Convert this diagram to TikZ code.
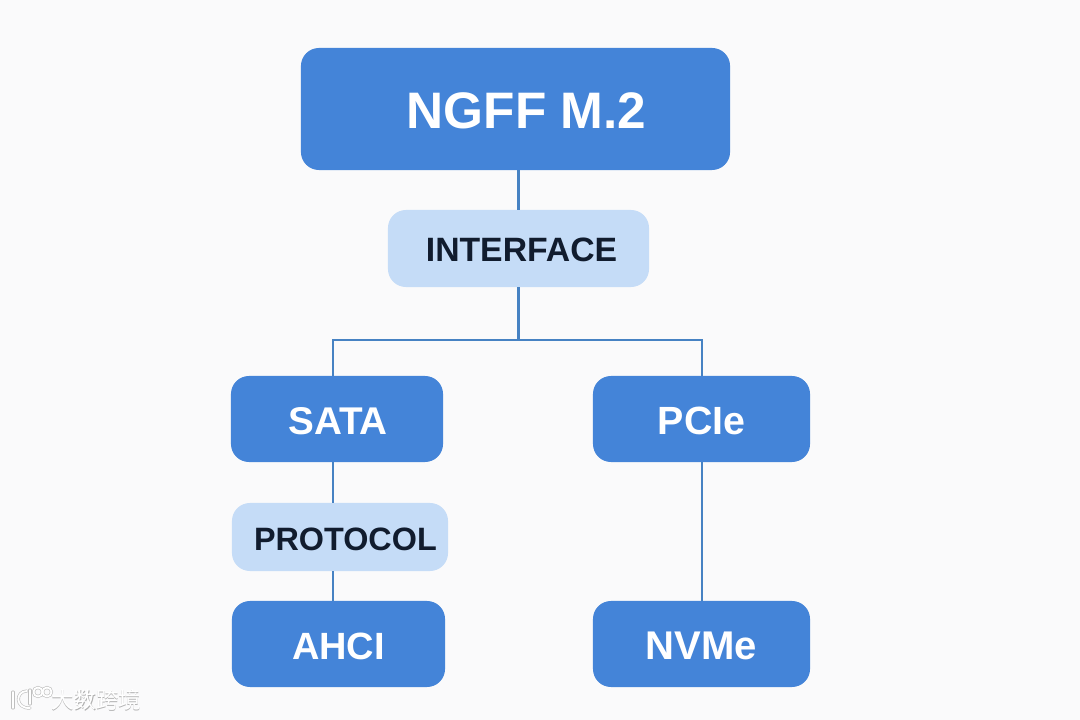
\documentclass[tikz,border=0pt]{standalone}
\usepackage{fontspec}
\setmainfont{Liberation Sans}
\newfontfamily\cjk{Noto Sans CJK SC}
\usetikzlibrary{positioning}
\definecolor{pageback}{RGB}{250,250,251}
\definecolor{boxblue}{RGB}{68,132,216}
\definecolor{boxlight}{RGB}{197,220,247}
\definecolor{wireblue}{RGB}{70,130,195}
\definecolor{inkdark}{RGB}{17,28,46}
\newcommand{\sized}[1]{\fontsize{#1}{#1}\selectfont\bfseries}

\begin{document}
\begin{tikzpicture}[
  x=0.025cm, y=-0.025cm,
  dark/.style={fill=boxblue, text=white, rounded corners=0.45cm, inner sep=0pt, minimum height=2.15cm, text height=21.7pt, text depth=0pt},
  pale/.style={fill=boxlight, text=inkdark, rounded corners=0.45cm, inner sep=0pt, text height=19.2pt, text depth=0pt},
  wire/.style={draw=wireblue, line width=1.9pt},
  mark shade/.style={draw=black!25, line width=2.2pt, line cap=round},
  mark light/.style={draw=white, line width=1.3pt, line cap=round}
]
\path[fill=pageback] (0,0) rectangle (1080,720);

\node[dark, minimum width=10.725cm, minimum height=3.05cm, text height=27.8pt] (ngff) at (515.5,109) {\sized{36.5}\hspace*{0.55cm}NGFF M.2};
\node[pale, minimum width=6.525cm, minimum height=1.925cm] (iface) at (518.5,248.5) {\sized{24}\hspace*{0.15cm}INTERFACE};
\node[dark, minimum width=5.3cm] (sata) at (337,419) {\sized{27.5}\hspace*{0.05cm}SATA};
\node[dark, minimum width=5.425cm] (pcie) at (701.5,419) {\sized{28}PCIe};
\node[pale, minimum width=5.4cm, minimum height=1.7cm] (proto) at (340,537) {\sized{23}\hspace*{0.27cm}PROTOCOL};
\node[dark, minimum width=5.325cm] (ahci) at (338.5,644) {\sized{27}AHCI};
\node[dark, minimum width=5.425cm] (nvme) at (701.5,644) {\sized{28.5}NVMe};

\coordinate (stem) at (518.5,340);
\coordinate (busleft) at (333,340);
\coordinate (busright) at (702,340);

\draw[wire] (iface.north) -- (iface.north |- ngff.south);
\draw[wire] (iface.south) -- (stem);
\draw[wire] (busleft |- sata.north) -- (busleft) -- (busright) -- (busright |- pcie.north);
\draw[wire] (busleft |- sata.south) -- (busleft |- proto.north);
\draw[wire] (busleft |- proto.south) -- (busleft |- ahci.north);
\draw[wire] (busright |- pcie.south) -- (busright |- nvme.north);

% corner mark
\foreach \look in {mark shade, mark light} {
  \draw[\look] (13,692) -- (13,708);
  \draw[\look] (27,691) .. controls (15,691) and (15,709) .. (30,708);
  \draw[\look] (30,690) -- (30,704);
  \draw[\look] (38,692) circle (4.5);
  \draw[\look] (47,692) circle (4.5);
}
\node[text=black!30, font=\cjk\fontsize{16}{16}\selectfont, inner sep=0pt] (markshade) at (96.5,700.5) {大数跨境};
\node[text=white, font=\cjk\fontsize{16}{16}\selectfont, inner sep=0pt] (marktext) at (96,700) {大数跨境};
\end{tikzpicture}
\end{document}
